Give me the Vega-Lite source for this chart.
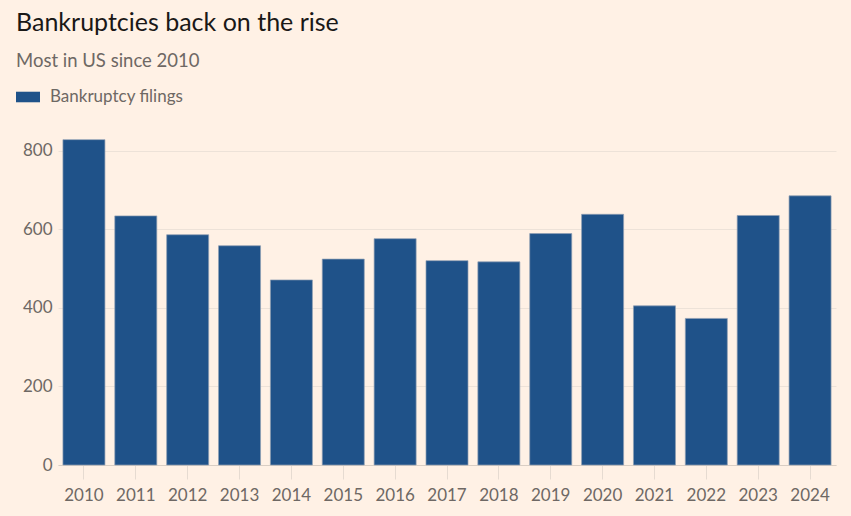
{
  "$schema": "https://vega.github.io/schema/vega-lite/v6.json",
  "width": 778,
  "height": 334,
  "autosize": {"type": "none"},
  "padding": {"left": 58, "top": 131, "right": 15, "bottom": 51},
  "background": "#fff1e5",
  "title": {
    "text": "Bankruptcies back on the rise",
    "subtitle": "Most in US since 2010",
    "anchor": "start",
    "frame": "group",
    "dx": -42,
    "offset": 15,
    "font": "Lato",
    "fontSize": 25,
    "fontWeight": "normal",
    "color": "#1a1817",
    "subtitleFont": "Lato",
    "subtitleFontSize": 18.5,
    "subtitleColor": "#6e6864",
    "subtitlePadding": 16
  },
  "data": {
    "values": [
      {"year": "2010", "filings": 828},
      {"year": "2011", "filings": 634},
      {"year": "2012", "filings": 586},
      {"year": "2013", "filings": 558},
      {"year": "2014", "filings": 471},
      {"year": "2015", "filings": 524},
      {"year": "2016", "filings": 576},
      {"year": "2017", "filings": 520},
      {"year": "2018", "filings": 517},
      {"year": "2019", "filings": 589},
      {"year": "2020", "filings": 638},
      {"year": "2021", "filings": 405},
      {"year": "2022", "filings": 373},
      {"year": "2023", "filings": 635},
      {"year": "2024", "filings": 685}
    ]
  },
  "config": {
    "view": {"stroke": null},
    "font": "Lato"
  },
  "mark": {"type": "bar", "stroke": "#8f9fb3", "strokeWidth": 0.7},
  "encoding": {
    "x": {
      "field": "year",
      "type": "ordinal",
      "scale": {"paddingInner": 0.19, "paddingOuter": 0.095},
      "axis": {
        "title": null,
        "labelAngle": 0,
        "labelFont": "Lato",
        "labelFontSize": 17,
        "labelColor": "#6e6864",
        "labelPadding": 8,
        "tickSize": 14,
        "tickColor": "#e6dbd1",
        "tickWidth": 1,
        "domainColor": "#d9cec4",
        "domainWidth": 1
      }
    },
    "y": {
      "field": "filings",
      "type": "quantitative",
      "scale": {"domain": [0, 850], "nice": false},
      "axis": {
        "title": null,
        "values": [0, 200, 400, 600, 800],
        "domain": false,
        "ticks": false,
        "labelFont": "Lato",
        "labelFontSize": 17,
        "labelColor": "#6e6864",
        "labelPadding": 6,
        "gridColor": "#ede2d8",
        "gridWidth": 1
      }
    },
    "color": {
      "datum": "Bankruptcy filings",
      "type": "nominal",
      "scale": {"range": ["#1f5289"]},
      "legend": {
        "title": null,
        "orient": "none",
        "legendX": -42,
        "legendY": -46,
        "padding": 0,
        "symbolType": "M-1,-0.44H1V0.44H-1Z",
        "symbolSize": 576,
        "symbolStrokeWidth": 0,
        "symbolOpacity": 1,
        "labelFont": "Lato",
        "labelFontSize": 17,
        "labelColor": "#6e6864",
        "labelOffset": 10
      }
    }
  }
}
